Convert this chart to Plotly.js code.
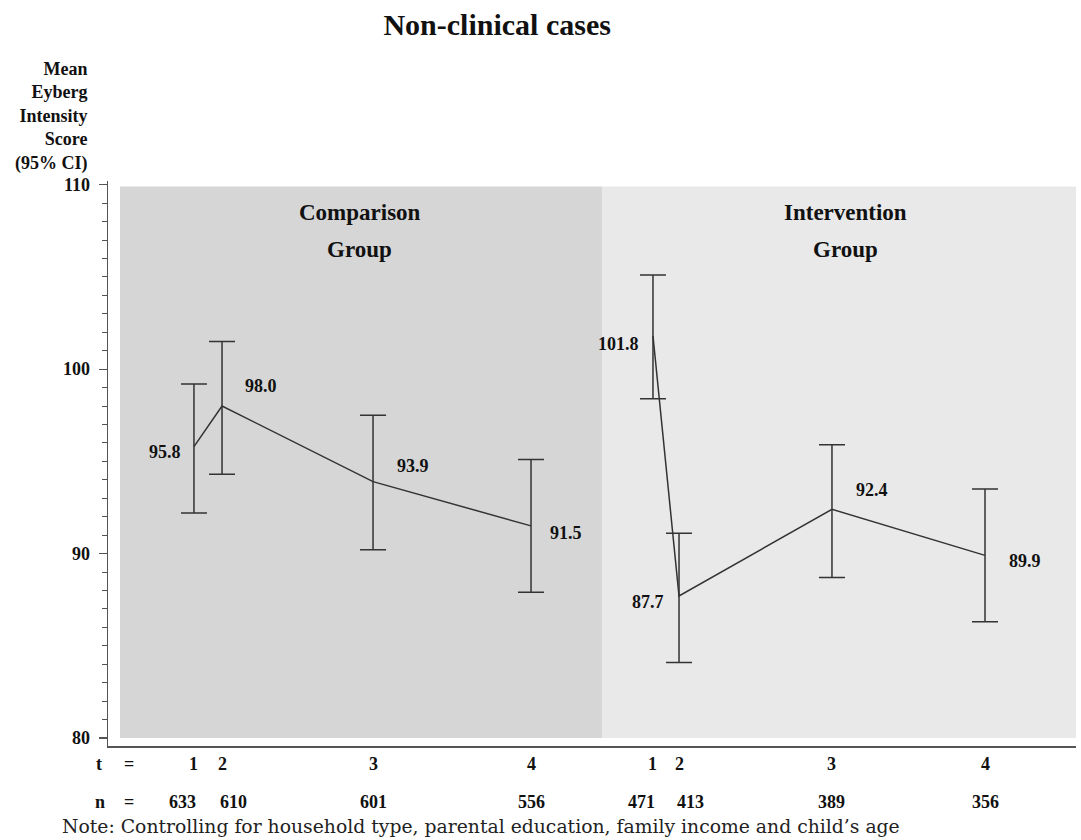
<!DOCTYPE html>
<html>
<head>
<meta charset="utf-8">
<script src="https://cdn.plot.ly/plotly-3.0.1.min.js"></script>
<style>html,body{margin:0;padding:0;background:#fff;}#chart{width:1081px;height:840px;}</style>
</head>
<body>
<div id="chart"></div>
<script>
// ---- data ----
const timeLabels = ["1", "2", "3", "4"];
const compPos   = [8.88, 11.78, 27.38, 43.70];
const compMean  = [95.8, 98.0, 93.9, 91.5];
const compLower = [92.2, 94.3, 90.2, 87.9];
const compUpper = [99.2, 101.5, 97.5, 95.1];
const compN     = ["633", "610", "601", "556"];

const intPos    = [56.30, 58.99, 74.79, 90.60];
const intMean   = [101.8, 87.7, 92.4, 89.9];
const intLower  = [98.4, 84.1, 88.7, 86.3];
const intUpper  = [105.1, 91.1, 95.9, 93.5];
const intN      = ["471", "413", "389", "356"];

const groupNames = ["Comparison", "Intervention"];
const yTicks = [80, 90, 100, 110];

// ---- styling ----
const SERIF = "Liberation Serif, DejaVu Serif, serif";
const INK = "#333333";
const lineStyle = {color: INK, width: 1.5};

function trace(pos, mean, lo, hi) {
  return {
    type: "scatter", mode: "lines",
    x: pos, y: mean,
    line: lineStyle,
    error_y: {
      type: "data", symmetric: false,
      array: hi.map((v, i) => v - mean[i]),
      arrayminus: mean.map((v, i) => v - lo[i]),
      color: INK, thickness: 1.5, width: 13
    },
    hoverinfo: "skip", showlegend: false
  };
}

const data = [
  trace(compPos, compMean, compLower, compUpper),
  trace(intPos, intMean, intLower, intUpper)
];

// value labels: offsets per point (anchor side, shifts)
const compLabelStyle = [
  {xa: "right", dx: -11, dy: -5},
  {xa: "left",  dx: 21,  dy: 20},
  {xa: "left",  dx: 22,  dy: 16},
  {xa: "left",  dx: 17,  dy: -7}
];
const intLabelStyle = [
  {xa: "right", dx: -12, dy: -8},
  {xa: "right", dx: -13, dy: -6},
  {xa: "left",  dx: 22,  dy: 19},
  {xa: "left",  dx: 22,  dy: -6}
];

const ann = [];
const valFont = {family: SERIF, size: 18, color: "#111", weight: "bold"};
function addValues(pos, mean, st) {
  mean.forEach((m, i) => {
    ann.push({x: pos[i], y: m, xref: "x", yref: "y", text: m.toFixed(1),
      showarrow: false, xanchor: st[i].xa, yanchor: "middle",
      xshift: st[i].dx, yshift: st[i].dy, font: valFont});
  });
}
addValues(compPos, compMean, compLabelStyle);
addValues(intPos, intMean, intLabelStyle);

// bottom rows: t and n
const rowFont = {family: SERIF, size: 18, color: "#111", weight: "bold"};
const tY = -0.032, nY = -0.099;
ann.push({x: -0.0093, y: tY, xref: "paper", yref: "paper", text: "t", showarrow: false, xanchor: "center", yanchor: "middle", font: rowFont});
ann.push({x: 0.0217, y: tY, xref: "paper", yref: "paper", text: "=", showarrow: false, xanchor: "center", yanchor: "middle", font: rowFont});
ann.push({x: -0.0083, y: nY, xref: "paper", yref: "paper", text: "n", showarrow: false, xanchor: "center", yanchor: "middle", font: rowFont});
ann.push({x: 0.0217, y: nY, xref: "paper", yref: "paper", text: "=", showarrow: false, xanchor: "center", yanchor: "middle", font: rowFont});
const nShift = [-11, 11, 0, 0];
[[compPos, compN], [intPos, intN]].forEach(([pos, ns]) => {
  pos.forEach((p, i) => {
    ann.push({x: p, y: tY, xref: "x", yref: "paper", text: timeLabels[i], showarrow: false,
      xanchor: "center", yanchor: "middle", font: rowFont});
    ann.push({x: p, y: nY, xref: "x", yref: "paper", text: ns[i], showarrow: false,
      xanchor: "center", yanchor: "middle", xshift: nShift[i], font: rowFont});
  });
});

// group headings
const grpFont = {family: SERIF, size: 23, color: "#111", weight: "bold"};
ann.push({x: 26.03, y: 0.945, xref: "x", yref: "paper", text: groupNames[0], showarrow: false, xanchor: "center", yanchor: "middle", font: grpFont});
ann.push({x: 26.03, y: 0.878, xref: "x", yref: "paper", text: "Group", showarrow: false, xanchor: "center", yanchor: "middle", font: grpFont});
ann.push({x: 76.14, y: 0.945, xref: "x", yref: "paper", text: groupNames[1], showarrow: false, xanchor: "center", yanchor: "middle", font: grpFont});
ann.push({x: 76.14, y: 0.878, xref: "x", yref: "paper", text: "Group", showarrow: false, xanchor: "center", yanchor: "middle", font: grpFont});

// y axis title (stacked, right aligned)
ann.push({x: -0.0186, y: 1.115, xref: "paper", yref: "paper",
  text: "Mean<br>Eyberg<br>Intensity<br>Score<br>(95% CI)", align: "right",
  showarrow: false, xanchor: "right", yanchor: "middle",
  font: {family: SERIF, size: 18, color: "#111", weight: "bold"}});

// note
ann.push({x: -0.0496, y: -0.1416, xref: "paper", yref: "paper",
  text: "Note: Controlling for household type, parental education, family income and child’s age",
  showarrow: false, xanchor: "left", yanchor: "middle",
  font: {family: "DejaVu Serif, Liberation Serif, serif", size: 18.8, color: "#222"}});

const layout = {
  width: 1081, height: 840,
  margin: {l: 108, r: 5, t: 181, b: 94},
  paper_bgcolor: "#ffffff", plot_bgcolor: "#ffffff",
  title: {text: "Non-clinical cases", x: 0.402, xref: "paper", xanchor: "center",
    y: 0.971, yref: "container", yanchor: "middle",
    font: {family: SERIF, size: 30, color: "#111", weight: "bold"}},
  xaxis: {range: [0, 100], showgrid: false, zeroline: false, showline: true,
    linecolor: "#555", linewidth: 1.5, ticks: "", showticklabels: false, fixedrange: true},
  yaxis: {range: [79.566, 110.2], showgrid: false, zeroline: false, showline: true,
    linecolor: "#555", linewidth: 1.5,
    tickvals: yTicks, ticktext: yTicks.map(String),
    ticks: "outside", ticklen: 8, tickcolor: "#555", tickwidth: 1.2,
    ticklabelstandoff: 5,
    minor: {dtick: 1, tick0: 80, ticks: "outside", ticklen: 5, tickcolor: "#555", tickwidth: 1},
    tickfont: {family: SERIF, size: 18, color: "#111", weight: "bold"}, fixedrange: true},
  shapes: [
    {type: "rect", layer: "below", xref: "x", yref: "y", x0: 1.24, x1: 51.03, y0: 80.0, y1: 109.9,
      fillcolor: "#d6d6d6", line: {width: 0}},
    {type: "rect", layer: "below", xref: "x", yref: "y", x0: 51.03, x1: 100.4, y0: 80.0, y1: 109.9,
      fillcolor: "#e9e9e9", line: {width: 0}}
  ],
  annotations: ann,
  showlegend: false
};

Plotly.newPlot("chart", data, layout, {displayModeBar: false, staticPlot: true});
</script>
</body>
</html>
